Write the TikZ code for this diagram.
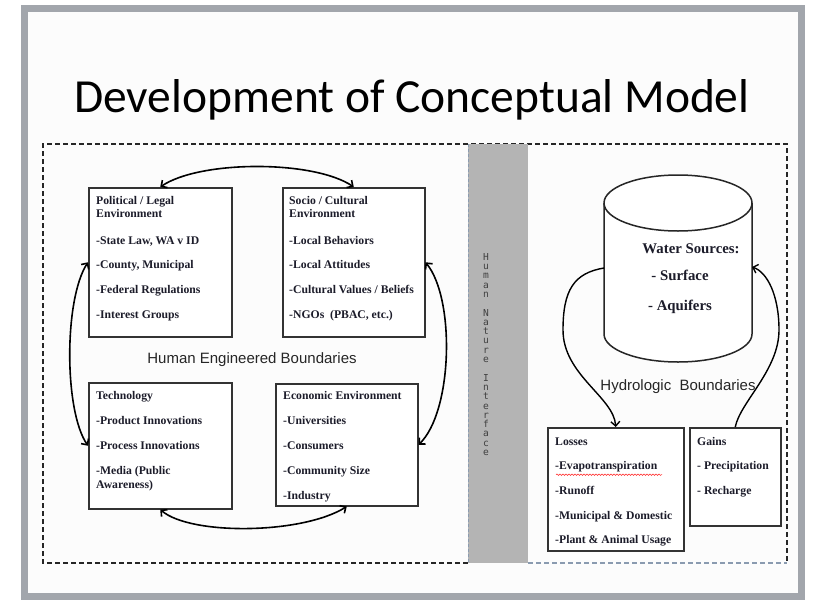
\documentclass[tikz,border=0pt]{standalone}
\usepackage{fontspec}
\setmainfont{Liberation Serif}
\newfontfamily\calibrif{Carlito}
\newfontfamily\arialf{Liberation Sans}
\newfontfamily\monof{DejaVu Sans Mono}
\usetikzlibrary{arrows.meta,decorations.pathmorphing}
\definecolor{txt}{HTML}{1C1C2A}
\definecolor{framegray}{HTML}{A2A6AC}
\definecolor{bandgray}{HTML}{B4B4B4}
\definecolor{bluedash}{HTML}{8A9BB0}
\begin{document}
\begin{tikzpicture}[x=1pt,y=-1pt,
  bx/.style={draw=black!80, line width=1.5pt, fill=white, inner sep=0pt, anchor=north west},
  lbl/.style={anchor=base west, inner sep=0pt, text=txt, font=\bfseries\fontsize{11.7}{13}\selectfont},
  wlbl/.style={anchor=base, inner sep=0pt, text=txt, font=\bfseries\fontsize{14.8}{16}\selectfont},
  blbl/.style={anchor=base, inner sep=0pt, text=black!85, font=\arialf\fontsize{15}{17}\selectfont},
  arrboth/.style={line width=1.6pt, black, {Straight Barb[length=4.5pt,width=9pt]}-{Straight Barb[length=4.5pt,width=9pt]}},
  arrend/.style={line width=1.4pt, black, -{Straight Barb[length=4.5pt,width=9pt]}},
  dashbox/.style={line width=1.3pt, black!85, dash pattern=on 5pt off 3pt}
]
\useasboundingbox (0,0) rectangle (813,602);
\fill[white] (0,0) rectangle (813,602);
% slide frame
\draw[framegray, line width=7pt, fill={rgb,255:red,252;green,252;blue,252}] (24.5,9) rectangle (801,596);

% title
\node[anchor=base, inner sep=0pt, font=\calibrif\fontsize{47.5}{52}\selectfont] (title) at (412,112) {Development of Conceptual Model};

% dashed boundary
\draw[dashbox] (468,563) -- (43,563) -- (43,144) -- (787,144) -- (787,563);
\draw[line width=1.3pt, bluedash, dash pattern=on 5pt off 3pt] (528,563) -- (787,563);
% gray band
\fill[bandgray] (468,144) rectangle (528,563);
\draw[line width=1pt, bluedash, dash pattern=on 3pt off 2pt] (468,144) -- (468,563);
\node[anchor=north, inner sep=0pt, align=center, text=black!75, font=\monof\fontsize{9.6}{9.3}\selectfont] (hni) at (486,253)
  {H\\u\\m\\a\\n\\~\\N\\a\\t\\u\\r\\e\\~\\I\\n\\t\\e\\r\\f\\a\\c\\e};

% ---------- human side boxes ----------
\node[bx, minimum width=143pt, minimum height=149pt] (pol) at (88,187) {};
\node[bx, minimum width=142pt, minimum height=149pt] (soc) at (282,187) {};
\node[bx, minimum width=143pt, minimum height=126pt] (tech) at (88,382) {};
\node[bx, minimum width=142pt, minimum height=122pt] (eco) at (275,383) {};

\node[lbl] (p1) at (96,204) {Political / Legal};
\node[lbl] (p2) at (96,217) {Environment};
\node[lbl] (p3) at (96,244) {-State Law, WA v ID};
\node[lbl] (p4) at (96,268) {-County, Municipal};
\node[lbl] (p5) at (96,293) {-Federal Regulations};
\node[lbl] (p6) at (96,318) {-Interest Groups};

\node[lbl] (s1) at (289,204) {Socio / Cultural};
\node[lbl] (s2) at (289,217) {Environment};
\node[lbl] (s3) at (289,244) {-Local Behaviors};
\node[lbl] (s4) at (289,268) {-Local Attitudes};
\node[lbl] (s5) at (289,293) {-Cultural Values / Beliefs};
\node[lbl] (s6) at (289,318) {-NGOs\ \ (PBAC, etc.)};

\node[lbl] (t1) at (96,399) {Technology};
\node[lbl] (t2) at (96,424) {-Product Innovations};
\node[lbl] (t3) at (96,449) {-Process Innovations};
\node[lbl] (t4) at (96,474) {-Media (Public};
\node[lbl] (t5) at (96,488) {Awareness)};

\node[lbl] (e1) at (283,399) {Economic Environment};
\node[lbl] (e2) at (283,424) {-Universities};
\node[lbl] (e3) at (283,449) {-Consumers};
\node[lbl] (e4) at (283,474) {-Community Size};
\node[lbl] (e5) at (283,499) {-Industry};

\node[blbl] (heb) at (252,363) {Human Engineered Boundaries};

% connectors (human side)
\draw[arrboth] (pol.north) .. controls +(40,-27) and +(-40,-27) .. (soc.north);
\draw[arrboth] (tech.south) .. controls +(30,26) and +(-45,28) .. (eco.south);
\draw[arrboth] (pol.west) .. controls +(-24,37) and +(-24,-35) .. (tech.west);
\draw[arrboth] (soc.east) .. controls +(30,37) and +(34,-33) .. (eco.east);

% ---------- hydrologic side ----------
\draw[line width=1.5pt, black!85, fill=white] (604,203) -- (604,334) arc[start angle=180, end angle=0, x radius=74, y radius=28] -- (752,203);
\draw[line width=1.5pt, black!85, fill=white] (678,203) ellipse [x radius=74, y radius=28];
\coordinate (cylL) at (604,268);
\coordinate (cylR) at (752,267);
\coordinate (hl) at (563,330);
\coordinate (hr) at (779,330);

\node[wlbl] (w1) at (691,253) {Water Sources:};
\node[wlbl] (w2) at (680,280) {- Surface};
\node[wlbl] (w3) at (680,310) {- Aquifers};

\node[blbl] (hyb) at (678,390) {Hydrologic\ \ Boundaries};

\node[bx, minimum width=136pt, minimum height=123pt] (loss) at (547,427) {};
\node[bx, minimum width=91pt, minimum height=98pt] (gain) at (689,427) {};

\node[lbl] (l1) at (555,445) {Losses};
\node[lbl] (l2) at (555,469) {-Evapotranspiration};
\node[lbl] (l3) at (555,494) {-Runoff};
\node[lbl] (l4) at (555,519) {-Municipal \& Domestic};
\node[lbl] (l5) at (555,543) {-Plant \& Animal Usage};
\draw[red!80, line width=0.6pt, decorate, decoration={snake, amplitude=0.7pt, segment length=3pt}] (l2.south west) ++(1,3) -- ++(106,0);

\node[lbl] (g1) at (697,445) {Gains};
\node[lbl] (g2) at (697,469) {- Precipitation};
\node[lbl] (g3) at (697,494) {- Recharge};

\draw[arrend] (cylL) .. controls +(-30,5) and +(0,-40) .. (hl) .. controls +(0,45) and +(-2,-30) .. (loss.north);
\draw[arrend] (gain.north) .. controls +(5,-25) and +(0,40) .. (hr) .. controls +(0,-35) and +(15,5) .. (cylR);
\end{tikzpicture}
\end{document}
